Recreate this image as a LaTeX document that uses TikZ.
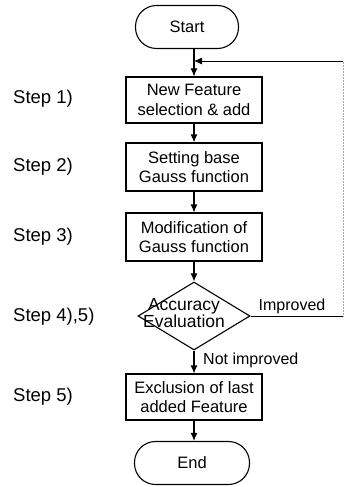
\documentclass[tikz,border=0pt]{standalone}
\usepackage{fontspec}
\setmainfont{Liberation Sans}
\usetikzlibrary{arrows.meta,shapes.geometric}
\begin{document}
\begin{tikzpicture}[x=1pt,y=-1pt,
  box/.style={draw, line width=1.1pt, minimum width=136pt, minimum height=46pt, inner sep=1pt, align=center, font=\fontsize{16.5}{19.5}\selectfont},
  term/.style={draw, line width=1.1pt, rounded corners=21pt, minimum height=43pt, font=\fontsize{16.5}{19.5}\selectfont},
  steplabel/.style={anchor=west, font=\fontsize{18.5}{22}\selectfont, inner sep=0pt},
  lbl/.style={font=\fontsize{16}{19}\selectfont, inner sep=0pt},
  flow/.style={line width=1.1pt, -{Latex[length=8pt,width=7pt]}},
]
\useasboundingbox (0,0) rectangle (345,487);
\node[term, minimum width=103pt] (start) at (187,27) {Start};
\node[box] (b1) at (194,100) {New Feature\\selection \& add};
\node[box, minimum height=48pt] (b2) at (194,167) {Setting base\\Gauss function};
\node[box, minimum height=48pt] (b3) at (194,237) {Modification of\\Gauss function};
\node[diamond, draw, line width=1.1pt, minimum width=112pt, minimum height=68pt, inner sep=0pt] (dec) at (194,316) {};
\node[align=center, inner sep=0pt, font=\fontsize{17.5}{16}\selectfont] (dectext) at (184,313) {Accuracy\\Evaluation};
\node[box] (b5) at (194,397) {Exclusion of last\\added Feature};
\node[term, minimum width=115pt] (end) at (192,463) {End};

\node[steplabel] (s1) at (13,99) {Step 1)};
\node[steplabel] (s2) at (13,167) {Step 2)};
\node[steplabel] (s3) at (13,237) {Step 3)};
\node[steplabel] (s4) at (13,317) {Step 4),5)};
\node[steplabel] (s5) at (13,397) {Step 5)};

\coordinate (fbtop) at (343,61);
\coordinate (fbbot) at (343,316);

\draw[flow] (start.south -| b1.north) -- (b1.north);
\draw[flow] (b1) -- (b2);
\draw[flow] (b2) -- (b3);
\draw[flow] (b3) -- (dec.north);
\draw[flow] (dec.south) -- (b5.north);
\draw[flow] (b5) -- (end.north -| b5.south);
\draw[line width=0.8pt] (dec.east) -- (fbbot);
\draw[line width=0.5pt, densely dotted, gray!70] (fbbot) -- (fbtop);
\draw[flow, line width=0.8pt] (fbtop) -- (fbtop -| b1.north);

\node[lbl, anchor=base] (imp) at (292,310) {Improved};
\node[lbl, anchor=west] (notimp) at (203,360) {Not improved};
\end{tikzpicture}
\end{document}
